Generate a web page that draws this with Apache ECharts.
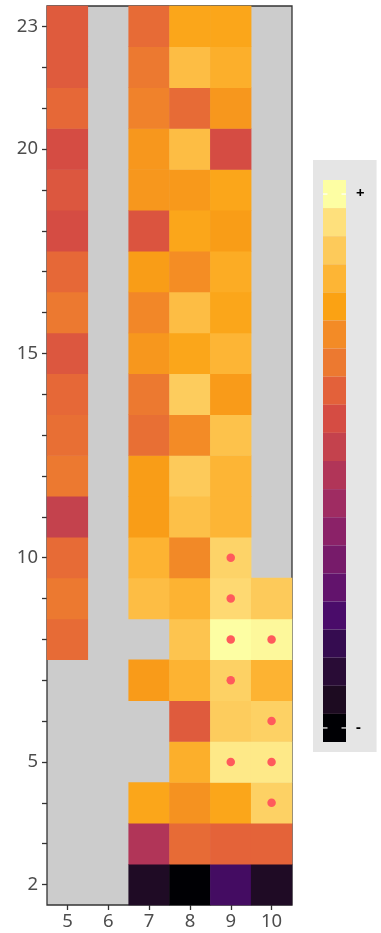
<!DOCTYPE html>
<html>
<head>
<meta charset="utf-8">
<script src="https://cdn.jsdelivr.net/npm/echarts@6/dist/echarts.min.js"></script>
<style>
  html, body { margin: 0; padding: 0; background: #ffffff; }
  #chart { width: 381px; height: 933px; }
</style>
</head>
<body>
<div id="chart"></div>
<script>
// Column and row categories
const xCats = ['5', '6', '7', '8', '9', '10'];
const yCats = ['2','3','4','5','6','7','8','9','10','11','12','13','14','15','16','17','18','19','20','21','22','23'];
const yLabelShown = ['2', '5', '10', '15', '20', '23'];

// Cell values per column, rows 2..23 (null = no data)
const col5  = [null, null, null, null, null, null, 12.4, 13.0, 12.4, 10.0, 13.0, 12.6, 12.3, 11.5, 13.0, 12.3, 11.0, 11.5, 11.0, 12.3, 11.7, 11.7];
const col6  = [null, null, null, null, null, null, null, null, null, null, null, null, null, null, null, null, null, null, null, null, null, null];
const col7  = [1.2, 9.0, 15.2, null, null, 14.7, null, 16.4, 15.9, 14.8, 14.8, 12.6, 13.0, 14.5, 13.8, 14.8, 11.4, 14.5, 14.5, 13.5, 13.0, 12.4];
const col8  = [0.0, 12.4, 14.3, 15.7, 11.7, 15.9, 16.7, 15.9, 13.9, 16.5, 17.0, 14.0, 17.1, 15.2, 16.4, 14.1, 15.2, 14.6, 16.4, 12.4, 16.4, 15.2];
const col9  = [3.7, 12.1, 15.2, 18.3, 17.1, 17.3, 19.0, 17.7, 17.4, 16.0, 16.0, 16.6, 14.7, 16.0, 15.2, 15.5, 14.8, 15.2, 11.0, 14.5, 15.7, 15.2];
const col10 = [1.2, 12.1, 17.3, 18.3, 17.3, 15.9, 18.8, 17.0, null, null, null, null, null, null, null, null, null, null, null, null, null, null];
const columns = [col5, col6, col7, col8, col9, col10];

// Flagged cells [x, y]
const flagged = [['9','10'], ['9','9'], ['9','8'], ['10','8'], ['9','7'], ['10','6'], ['9','5'], ['10','5'], ['10','4']];

// Colour ramp, low to high
const palette = ['#000004','#1d0b21','#290c36','#350c50','#4a0c6a','#62136c','#771b6a','#8b2268','#9f2c62','#b13558',
                 '#c4424d','#d54c43','#e3613a','#ec7930','#f38b26','#fba213','#fdb535','#fdca5a','#fee07c','#fdfea3'];
const vMin = 0, vMax = 19;

const cells = [];
columns.forEach((col, xi) => {
  col.forEach((v, yi) => {
    if (v !== null) cells.push([xi, yi, v]);
  });
});

// Stepped legend pieces, one per ramp colour
const pieces = palette.map((c, i) => ({
  min: i - 0.5, max: i + 0.5, color: c,
  label: i === palette.length - 1 ? '+' : (i === 0 ? '-' : ' ')
}));

const legendLeft = 313, legendTop = 160, padTop = 20, padLeft = 10, keyW = 23, keyH = 28.1;

const font = 'Noto Sans';
const chart = echarts.init(document.getElementById('chart'), null, { renderer: 'canvas' });
chart.setOption({
  animation: false,
  backgroundColor: '#ffffff',
  grid: {
    left: 47, right: 89, top: 6, bottom: 28,
    show: true, backgroundColor: '#cccccc', borderColor: '#333333', borderWidth: 1.3
  },
  xAxis: {
    type: 'category', data: xCats,
    axisLine: { show: false },
    axisTick: { show: true, alignWithLabel: true, length: 5, lineStyle: { color: '#333333', width: 1.3 } },
    axisLabel: { color: '#4d4d4d', fontSize: 18.5, fontFamily: font, margin: 7 },
    splitLine: { show: false }
  },
  yAxis: {
    type: 'category', data: yCats,
    axisLine: { show: false },
    axisTick: { show: true, alignWithLabel: true, interval: 0, length: 5, lineStyle: { color: '#333333', width: 1.3 } },
    axisLabel: {
      color: '#4d4d4d', fontSize: 18.5, fontFamily: font, margin: 9,
      interval: (idx, val) => yLabelShown.includes(val)
    },
    splitLine: { show: false }
  },
  visualMap: [
    {
      type: 'continuous', show: false, seriesIndex: 0,
      min: vMin, max: vMax, inRange: { color: palette }
    },
    {
      type: 'piecewise', seriesIndex: 2, selectedMode: false, hoverLink: false,
      orient: 'vertical', align: 'left', left: legendLeft, top: legendTop,
      padding: [padTop, 12, 10, padLeft],
      backgroundColor: '#e5e5e5',
      itemSymbol: 'rect',
      itemWidth: keyW, itemHeight: keyH, itemGap: 0, itemSymbolGap: 8,
      showLabel: true,
      textStyle: { color: '#000000', fontSize: 15, fontWeight: 'bold', fontFamily: font },
      pieces: pieces
    }
  ],
  graphic: [
    { type: 'line', silent: true, z: 100, shape: { x1: legendLeft + padLeft, y1: legendTop + padTop + keyH / 2, x2: legendLeft + padLeft + 4.5, y2: legendTop + padTop + keyH / 2 }, style: { stroke: '#ffffff', lineWidth: 1.2 } },
    { type: 'line', silent: true, z: 100, shape: { x1: legendLeft + padLeft + keyW - 4.5, y1: legendTop + padTop + keyH / 2, x2: legendLeft + padLeft + keyW, y2: legendTop + padTop + keyH / 2 }, style: { stroke: '#ffffff', lineWidth: 1.2 } },
    { type: 'line', silent: true, z: 100, shape: { x1: legendLeft + padLeft, y1: legendTop + padTop + keyH * 19.5, x2: legendLeft + padLeft + 4.5, y2: legendTop + padTop + keyH * 19.5 }, style: { stroke: '#ffffff', lineWidth: 1.2 } },
    { type: 'line', silent: true, z: 100, shape: { x1: legendLeft + padLeft + keyW - 4.5, y1: legendTop + padTop + keyH * 19.5, x2: legendLeft + padLeft + keyW, y2: legendTop + padTop + keyH * 19.5 }, style: { stroke: '#ffffff', lineWidth: 1.2 } }
  ],
  series: [
    {
      type: 'heatmap', data: cells,
      itemStyle: { borderWidth: 0 },
      emphasis: { disabled: true }
    },
    {
      type: 'scatter', data: flagged, symbol: 'circle', symbolSize: 8.5,
      itemStyle: { color: '#ff5a5c', opacity: 1 }, z: 5, silent: true
    },
    {
      type: 'scatter', data: [], silent: true
    }
  ]
});
</script>
</body>
</html>
